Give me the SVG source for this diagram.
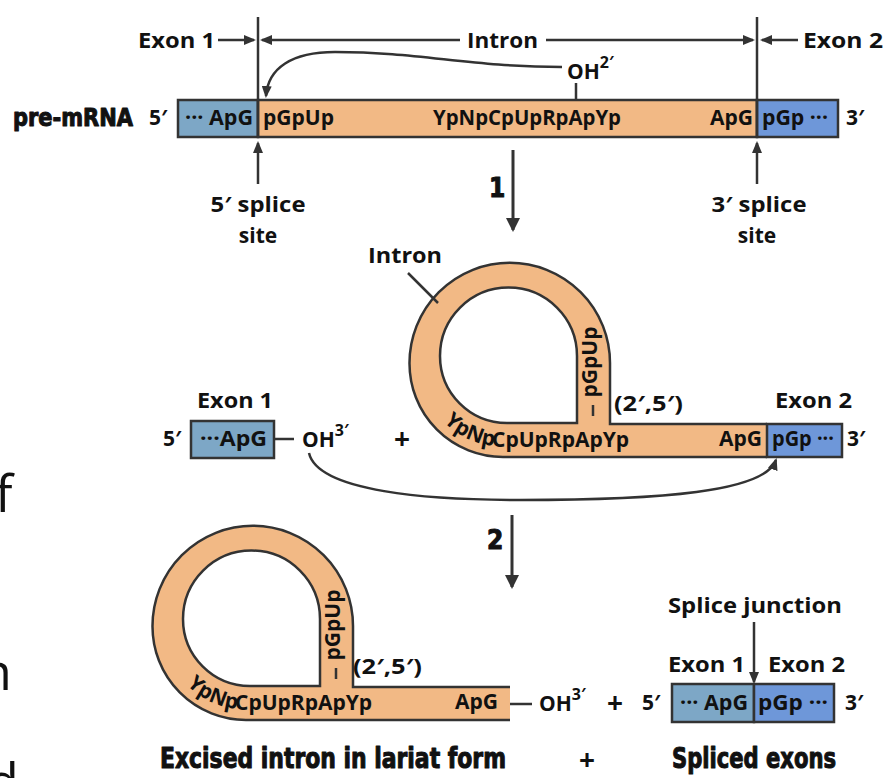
<svg xmlns="http://www.w3.org/2000/svg" xmlns:xlink="http://www.w3.org/1999/xlink" width="884" height="778" viewBox="0 0 884 778">
<style>
.t{font-family:"Open Sans","Noto Sans","DejaVu Sans",sans-serif;font-weight:700;font-size:21px;fill:#111}
.c{font-family:"DejaVu Sans","Liberation Sans",sans-serif;font-stretch:condensed;font-weight:700;fill:#111;stroke:#111;stroke-width:1;stroke-linejoin:round}
.ln{fill:none;stroke:#333;stroke-width:2.5}
.ar{fill:none;stroke:#333;stroke-width:2.5;marker-end:url(#ah)}
.big{fill:none;stroke:#333;stroke-width:3;marker-end:url(#ahb)}
.edge{fill:none;stroke:#333;stroke-width:2.5}
.lb{fill:#7da7c6;stroke:#333;stroke-width:2.5}
.db{fill:#6e97d9;stroke:#333;stroke-width:2.5}
.or{fill:#f2b985}
.plus{font-family:"Open Sans","DejaVu Sans",sans-serif;font-weight:700;font-size:28px;fill:#111}
.frag{font-family:"Open Sans","DejaVu Sans",sans-serif;font-weight:400;font-size:52px;fill:#111}
</style>
<defs>
<marker id="ah" markerUnits="userSpaceOnUse" markerWidth="12" markerHeight="10" refX="10" refY="5" orient="auto">
<path d="M0,0 L12,5 L0,10 Z" fill="#333"/>
</marker>
<marker id="ahb" markerUnits="userSpaceOnUse" markerWidth="14" markerHeight="14" refX="12" refY="7" orient="auto">
<path d="M0,0 L14,7 L0,14 Z" fill="#333"/>
</marker>
<path id="tp" d="M419.5,363 A83.5,83.5 0 0 0 503,446.5 L520,446.5"/>
</defs>

<!-- page fragments at left edge -->
<text class="frag" x="-5" y="512">f</text>
<text class="frag" x="-20" y="690">n</text>
<text class="frag" x="-13" y="800">d</text>

<!-- TOP: pre-mRNA -->
<g id="premrna">
<text class="c" x="13" y="126" font-size="25" textLength="120" lengthAdjust="spacingAndGlyphs">pre-mRNA</text>
<text class="t" x="149" y="125">5′</text>
<rect class="lb" x="178" y="100" width="80" height="37"/>
<rect class="or" x="258" y="100" width="499" height="37" stroke="#333" stroke-width="2.5"/>
<rect class="db" x="757" y="100" width="81" height="37"/>
<text class="t" x="185" y="125" textLength="68" lengthAdjust="spacingAndGlyphs">··· ApG</text>
<text class="t" x="263" y="125">pGpUp</text>
<text class="t" x="433" y="125" textLength="188" lengthAdjust="spacingAndGlyphs">YpNpCpUpRpApYp</text>
<text class="t" x="710" y="125">ApG</text>
<text class="t" x="762" y="125" textLength="66" lengthAdjust="spacingAndGlyphs">pGp ···</text>
<text class="t" x="846" y="125">3′</text>
<text class="t" x="567" y="79" font-size="23">OH<tspan dy="-11" font-size="16">2′</tspan></text>
</g>

<g id="labels-top">
<text class="t" x="138" y="48" textLength="77" lengthAdjust="spacingAndGlyphs">Exon 1</text>
<text class="t" x="467" y="48" textLength="71" lengthAdjust="spacingAndGlyphs">Intron</text>
<text class="t" x="803" y="48" textLength="80" lengthAdjust="spacingAndGlyphs">Exon 2</text>
<text class="t" x="258" y="212" text-anchor="middle" textLength="95" lengthAdjust="spacingAndGlyphs">5′ splice</text>
<text class="t" x="258" y="243" text-anchor="middle">site</text>
<text class="t" x="759" y="212" text-anchor="middle" textLength="95" lengthAdjust="spacingAndGlyphs">3′ splice</text>
<text class="t" x="757" y="243" text-anchor="middle">site</text>
<text class="c" x="489" y="197" font-size="26">1</text>
</g>

<!-- MIDDLE -->
<g id="exon1-mid">
<text class="t" x="197" y="408" textLength="76" lengthAdjust="spacingAndGlyphs">Exon 1</text>
<text class="t" x="163" y="446">5′</text>
<rect class="lb" x="191" y="421" width="83" height="37"/>
<text class="t" x="200" y="446" textLength="67" lengthAdjust="spacingAndGlyphs">···ApG</text>
<line class="ln" x1="274" y1="439" x2="294" y2="439"/>
<text class="t" x="302" y="447" font-size="23">OH<tspan dy="-11" font-size="16">3′</tspan></text>
</g>
<text class="plus" x="402" y="449" text-anchor="middle">+</text>

<g id="lariat-mid">
<path class="or" fill-rule="evenodd" d="M767,457 L503,457 A93.5,93.5 0 0 1 409.5,363 A100.25,100.25 0 0 1 610,363 L610,424 L767,424 Z M577,423 L507,423 A67,67 0 0 1 440,356 A68.5,68.5 0 0 1 577,356 Z"/>
<path class="edge" d="M767,424 L610,424 L610,363 A100.25,100.25 0 0 0 409.5,363 A93.5,93.5 0 0 0 503,457 L767,457"/>
<path class="edge" d="M577,423 L507,423 A67,67 0 0 1 440,356 A68.5,68.5 0 0 1 577,356 Z"/>
<text class="t"><textPath xlink:href="#tp" href="#tp" startOffset="65">YpNp</textPath></text>
<text class="t" x="492" y="446.5">CpUpRpApYp</text>
<text class="t" transform="translate(597,362) rotate(-90)" x="0" y="0" text-anchor="middle">pGpUp</text>
<line class="ln" x1="593" y1="405" x2="593" y2="416"/>
<text class="t" x="614" y="411" textLength="69" lengthAdjust="spacingAndGlyphs">(2′,5′)</text>
<text class="t" x="719" y="446">ApG</text>
<text class="t" x="368" y="263" textLength="74" lengthAdjust="spacingAndGlyphs">Intron</text>
<line class="ln" x1="408" y1="273" x2="438" y2="303"/>
</g>

<g id="exon2-mid">
<text class="t" x="775" y="408" textLength="77" lengthAdjust="spacingAndGlyphs">Exon 2</text>
<rect class="db" x="767" y="424" width="75" height="33"/>
<text class="t" x="772" y="446" textLength="62" lengthAdjust="spacingAndGlyphs">pGp ···</text>
<text class="t" x="847" y="446">3′</text>
</g>

<!-- BOTTOM -->
<g id="lariat-bottom" transform="translate(-257,263)">
<path class="or" fill-rule="evenodd" d="M767,457 L503,457 A93.5,93.5 0 0 1 409.5,363 A100.25,100.25 0 0 1 610,363 L610,424 L767,424 Z M577,423 L507,423 A67,67 0 0 1 440,356 A68.5,68.5 0 0 1 577,356 Z"/>
<path class="edge" d="M767,424 L610,424 L610,363 A100.25,100.25 0 0 0 409.5,363 A93.5,93.5 0 0 0 503,457 L767,457"/>
<path class="edge" d="M577,423 L507,423 A67,67 0 0 1 440,356 A68.5,68.5 0 0 1 577,356 Z"/>
<text class="t"><textPath xlink:href="#tp" href="#tp" startOffset="65">YpNp</textPath></text>
<text class="t" x="492" y="446.5">CpUpRpApYp</text>
<text class="t" transform="translate(597,362) rotate(-90)" x="0" y="0" text-anchor="middle">pGpUp</text>
<line class="ln" x1="593" y1="405" x2="593" y2="416"/>
<text class="t" x="610" y="411" textLength="69" lengthAdjust="spacingAndGlyphs">(2′,5′)</text>
<text class="t" x="712" y="446">ApG</text>
</g>
<g id="oh-bottom">
<line class="ln" x1="510" y1="704" x2="532" y2="704"/>
<text class="t" x="539" y="711" font-size="23">OH<tspan dy="-11" font-size="16">3′</tspan></text>
</g>
<text class="plus" x="615" y="713" text-anchor="middle">+</text>

<g id="spliced-exons">
<text class="t" x="668" y="613" textLength="174" lengthAdjust="spacingAndGlyphs">Splice junction</text>
<text class="t" x="668" y="672" textLength="77" lengthAdjust="spacingAndGlyphs">Exon 1</text>
<text class="t" x="768" y="672" textLength="77" lengthAdjust="spacingAndGlyphs">Exon 2</text>
<text class="t" x="642" y="710">5′</text>
<rect class="lb" x="672" y="684" width="82" height="38"/>
<rect class="db" x="754" y="684" width="80" height="38"/>
<text class="t" x="680" y="710" textLength="68" lengthAdjust="spacingAndGlyphs">··· ApG</text>
<text class="t" x="758" y="710" textLength="70" lengthAdjust="spacingAndGlyphs">pGp ···</text>
<text class="t" x="845" y="710">3′</text>
</g>

<g id="captions">
<text class="c" x="160" y="768" font-size="28" textLength="346" lengthAdjust="spacingAndGlyphs">Excised intron in lariat form</text>
<text class="plus" x="587" y="770" text-anchor="middle">+</text>
<text class="c" x="672" y="768" font-size="28" textLength="164" lengthAdjust="spacingAndGlyphs">Spliced exons</text>
<text class="c" x="487" y="549" font-size="26">2</text>
</g>

<!-- CONNECTORS -->
<g id="connectors">
<line class="ln" x1="258" y1="17" x2="258" y2="137"/>
<line class="ln" x1="757" y1="17" x2="757" y2="137"/>
<line class="ar" x1="218" y1="40" x2="254" y2="40"/>
<line class="ar" x1="460" y1="40" x2="262" y2="40"/>
<line class="ar" x1="546" y1="40" x2="753" y2="40"/>
<line class="ar" x1="798" y1="40" x2="762" y2="40"/>
<line class="ln" x1="576" y1="83" x2="576" y2="100"/>
<path class="ar" d="M562,67 C470,67 420,52 335,52 C292,52 268,68 266,96"/>
<line class="ar" x1="258" y1="184" x2="258" y2="143"/>
<line class="ar" x1="757" y1="184" x2="757" y2="143"/>
<line class="big" x1="513" y1="150" x2="513" y2="230"/>
<path class="ar" d="M309,453 C318,492 430,500 520,500 C660,500 765,492 776,460"/>
<line class="big" x1="512" y1="515" x2="512" y2="587"/>
<line class="ar" x1="754" y1="622" x2="754" y2="682"/>
</g>
</svg>
